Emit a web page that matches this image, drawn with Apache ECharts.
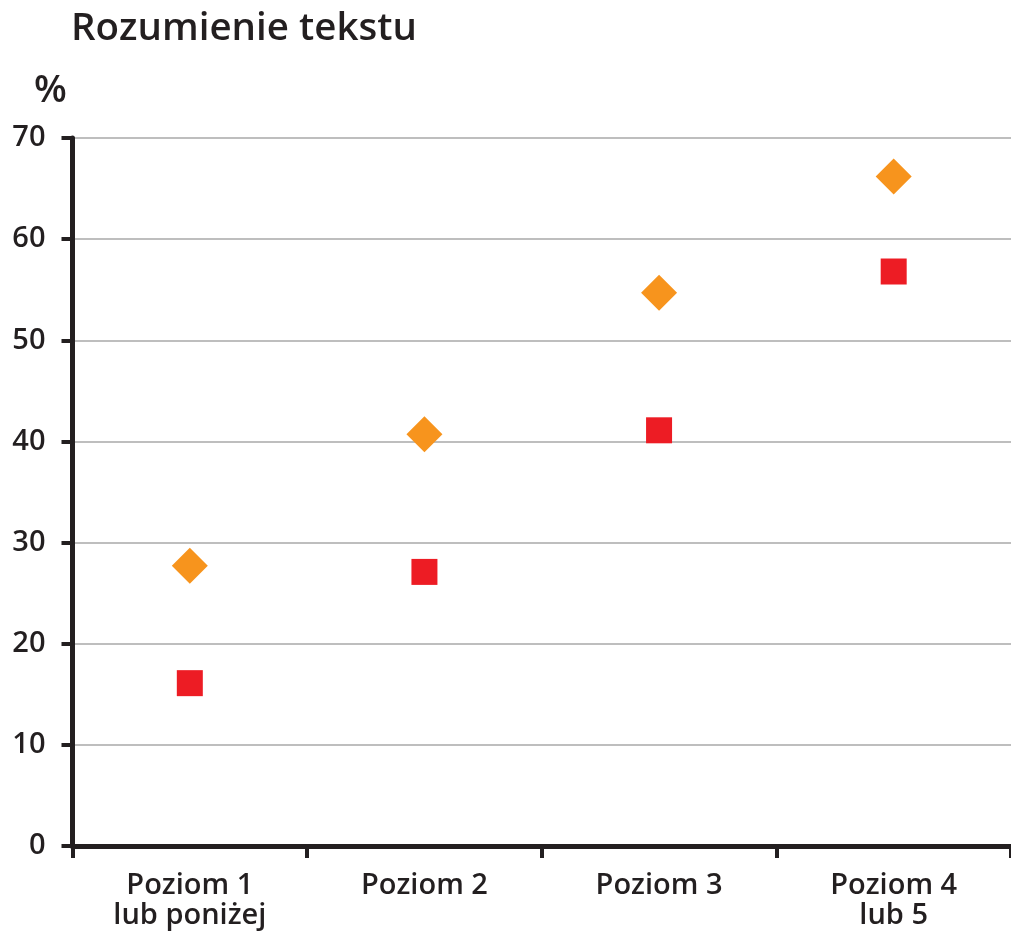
<!DOCTYPE html>
<html>
<head>
<meta charset="utf-8">
<script src="https://cdn.jsdelivr.net/npm/echarts@6/dist/echarts.min.js"></script>
<style>
  html, body { margin: 0; padding: 0; background: #fff; }
  #chart { width: 1011px; height: 939px; }
</style>
</head>
<body>
<div id="chart"></div>
<script>
const levels = ['Poziom 1\nlub poniżej', 'Poziom 2', 'Poziom 3', 'Poziom 4\nlub 5']
const orangeValues = [27.7, 40.7, 54.7, 66.2]
const redValues = [16.1, 27.1, 41.1, 56.8]
const yTicks = { min: 0, max: 70, interval: 10 }

const chart = echarts.init(document.getElementById('chart'))
const font = '"Open Sans", "Noto Sans", sans-serif'
const ink = '#231f20'

chart.setOption({
  animation: false,
  textStyle: { fontFamily: font },
  title: [
    {
      text: 'Rozumienie tekstu',
      left: 66,
      top: 5,
      textStyle: { fontFamily: font, fontSize: 38.5, fontWeight: 600, color: ink }
    },
    {
      text: '%',
      left: 29,
      top: 67,
      textStyle: { fontFamily: font, fontSize: 38, fontWeight: 600, color: ink }
    }
  ],
  grid: { left: 72.5, width: 944, top: 138, bottom: 93 },
  xAxis: {
    type: 'category',
    data: levels,
    boundaryGap: true,
    axisLine: { lineStyle: { color: ink, width: 5 } },
    axisTick: { show: true, length: 12, lineStyle: { color: ink, width: 4 } },
    axisLabel: {
      color: ink,
      fontFamily: font,
      fontSize: 29,
      fontWeight: 600,
      lineHeight: 30,
      margin: 25
    },
    splitLine: { show: false }
  },
  yAxis: {
    type: 'value',
    min: yTicks.min,
    max: yTicks.max,
    interval: yTicks.interval,
    axisLine: { show: true, lineStyle: { color: ink, width: 5 } },
    axisTick: { show: true, length: 11, lineStyle: { color: ink, width: 4 } },
    axisLabel: {
      color: ink,
      fontFamily: font,
      fontSize: 29,
      fontWeight: 600,
      margin: 27
    },
    splitLine: { show: true, lineStyle: { color: '#a8a8a8', width: 1.5 } }
  },
  series: [
    {
      name: 'orange',
      type: 'scatter',
      symbol: 'diamond',
      symbolSize: 36,
      itemStyle: { color: '#f7941d', opacity: 1 },
      data: orangeValues,
      z: 3
    },
    {
      name: 'red',
      type: 'scatter',
      symbol: 'rect',
      symbolSize: 26,
      itemStyle: { color: '#ed1c24', opacity: 1 },
      data: redValues,
      z: 3
    }
  ]
})
</script>
</body>
</html>
